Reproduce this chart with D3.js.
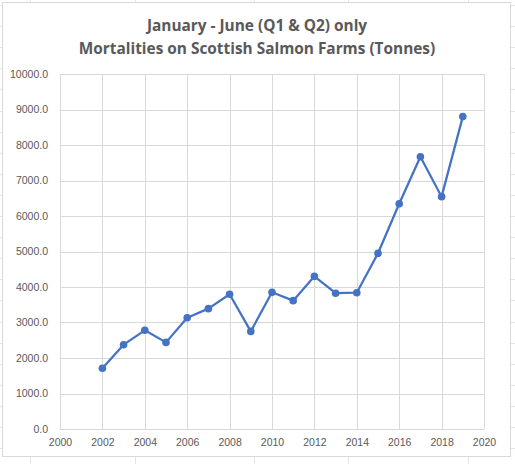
<!DOCTYPE html>
<html>
  <head>
    <meta charset="utf-8">
    <title>Mortalities on Scottish Salmon Farms</title>
    <script src="https://d3js.org/d3.v7.min.js"></script>
    <style>
      body { margin: 0; background: #fff; }
    </style>
  </head>
  <body>
    <script>

      // Jan-Jun mortalities, tonnes
      var years  = [2002, 2003, 2004, 2005, 2006, 2007, 2008, 2009, 2010, 2011,
                    2012, 2013, 2014, 2015, 2016, 2017, 2018, 2019];
      var tonnes = [1710, 2375, 2780, 2440, 3135, 3390, 3795, 2750, 3850, 3615,
                    4300, 3825, 3840, 4950, 6345, 7670, 6545, 8800];
      var xTicks = [2000, 2002, 2004, 2006, 2008, 2010, 2012, 2014, 2016, 2018, 2020];
      var yTicks = [0, 1000, 2000, 3000, 4000, 5000, 6000, 7000, 8000, 9000, 10000];
      var titleLines = ["January - June (Q1 & Q2) only",
                        "Mortalities on Scottish Salmon Farms (Tonnes)"];

      var W = 515, H = 464;
      // plot area edges (note: "top" is a reserved window global, so prefixed)
      var plotL = 60, plotR = 484, plotT = 74, plotB = 429;

      var x = d3.scaleLinear().domain([2000, 2020]).range([plotL, plotR]);
      var y = d3.scaleLinear().domain([0, 10000]).range([plotB, plotT]);

      var svg = d3.select("body").append("svg")
        .attr("width", W)
        .attr("height", H);

      // spreadsheet cells peeking out behind the chart
      var bg = svg.append("g").attr("stroke", "#e4e4e4").attr("stroke-width", 1);
      [30, 135, 254, 348, 468].forEach(function(cx) {
        bg.append("line").attr("x1", cx + 0.5).attr("x2", cx + 0.5).attr("y1", 0).attr("y2", H);
      });
      d3.range(5, H, 21.1).forEach(function(cy) {
        bg.append("line").attr("x1", 0).attr("x2", W).attr("y1", Math.round(cy) + 0.5).attr("y2", Math.round(cy) + 0.5);
      });

      // chart frame
      svg.append("rect")
        .attr("x", 2.5).attr("y", 2.5)
        .attr("width", 508).attr("height", 454)
        .attr("fill", "#fff")
        .attr("stroke", "#d9d9d9");

      // title
      svg.append("g").selectAll("text").data(titleLines).enter().append("text")
        .attr("x", 257)
        .attr("y", function(d, i) { return 31 + i * 23; })
        .attr("text-anchor", "middle")
        .attr("font-family", "'Open Sans', sans-serif")
        .attr("font-weight", "bold")
        .attr("font-size", "15.4px")
        .attr("fill", "#595959")
        .text(function(d) { return d; });

      // gridlines
      var grid = svg.append("g").attr("stroke", "#d9d9d9").attr("stroke-width", 1);
      grid.selectAll(".h").data(yTicks).enter().append("line")
        .attr("x1", plotL).attr("x2", plotR)
        .attr("y1", function(d) { return Math.round(y(d)) + 0.5; })
        .attr("y2", function(d) { return Math.round(y(d)) + 0.5; });
      grid.selectAll(".v").data(xTicks).enter().append("line")
        .attr("y1", plotT).attr("y2", plotB)
        .attr("x1", function(d) { return Math.round(x(d)) + 0.5; })
        .attr("x2", function(d) { return Math.round(x(d)) + 0.5; });

      // axes (labels only, Excel style)
      var yAxis = svg.append("g")
        .attr("transform", "translate(" + plotL + ",0)")
        .call(d3.axisLeft(y).tickValues(yTicks).tickSize(0).tickPadding(12)
          .tickFormat(d3.format(".1f")));
      var xAxis = svg.append("g")
        .attr("transform", "translate(0," + plotB + ")")
        .call(d3.axisBottom(x).tickValues(xTicks).tickSize(0).tickPadding(10)
          .tickFormat(d3.format("d")));
      [yAxis, xAxis].forEach(function(a) {
        a.select(".domain").remove();
        a.selectAll("text")
          .attr("font-family", "'Liberation Sans', Arial, sans-serif")
          .attr("font-size", "10.5px")
          .attr("fill", "#595959");
      });

      // series
      var pts = years.map(function(yr, i) { return [yr, tonnes[i]]; });
      svg.append("path")
        .datum(pts)
        .attr("fill", "none")
        .attr("stroke", "#4472C4")
        .attr("stroke-width", 2.25)
        .attr("stroke-linejoin", "round")
        .attr("d", d3.line().x(function(d) { return x(d[0]); }).y(function(d) { return y(d[1]); }));
      svg.append("g").selectAll("circle").data(pts).enter().append("circle")
        .attr("cx", function(d) { return x(d[0]); })
        .attr("cy", function(d) { return y(d[1]); })
        .attr("r", 3.8)
        .attr("fill", "#4472C4");

    </script>
  </body>
</html>
